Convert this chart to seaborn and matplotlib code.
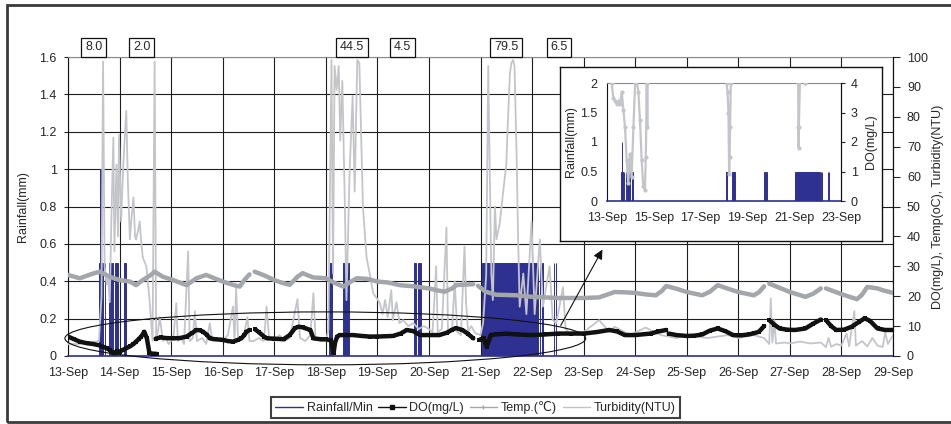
import numpy as np
import pandas as pd
import matplotlib
matplotlib.use("Agg")
import matplotlib.pyplot as plt
import seaborn as sns
from matplotlib.patches import Ellipse, Rectangle
from matplotlib.lines import Line2D
from matplotlib.ticker import FuncFormatter

# ---------------- data ----------------
days = list(range(13, 30))
day_labels = [f"{d}-Sep" for d in days]
inset_days = [13, 15, 17, 19, 21, 23]
inset_labels = [f"{d}-Sep" for d in inset_days]

# rainfall per minute (mm): event start / end (day of Sep) and amount
rain_start = [13.61, 13.63, 13.72, 13.80, 13.85, 13.91, 14.08, 18.07, 18.33, 19.71, 19.78, 21.02, 22.16, 22.20, 22.43, 22.47]
rain_end   = [13.67, 13.632, 13.725, 13.83, 13.88, 13.97, 14.13, 18.12, 18.45, 19.75, 19.85, 22.12, 22.163, 22.203, 22.433, 22.473]
rain_mm    = [0.5, 1.0, 0.5, 0.5, 0.5, 0.5, 0.5, 0.5, 0.5, 0.5, 0.5, 0.5, 0.5, 0.5, 0.5, 0.5]

# rain totals (mm) written above the plot
total_day = [13.50, 14.43, 18.51, 19.48, 21.50, 22.52]
total_txt = ["8.0", "2.0", "44.5", "4.5", "79.5", "6.5"]

# DO (mg/L) ; NaN = gap in record
do_t = [13.0, 13.12, 13.23, 13.36, 13.49, 13.6, 13.68, 13.75, 13.81, 13.86, 13.9, 13.95, 14.0, 14.06, 14.13, 14.2, 14.27, 14.32, 14.38, 14.42, 14.48, 14.53, 14.58, 14.64, 14.72, np.nan,
        14.7, 14.8, 14.9, 15.04, 15.17, 15.3, 15.4, 15.49, 15.56, 15.62, 15.7, 15.75, 15.85, 16.0, 16.1, 16.2, 16.3, 16.36, 16.42, 16.46, 16.52, np.nan,
        16.63, 16.7, 16.8, 16.86, 17.0, 17.18, 17.3, 17.4, 17.47, 17.55, 17.7, 17.76, 17.9, 18.0, 18.1, 18.15, 18.18, 18.22, 18.27, 18.4, 18.53, 18.7, 18.85, 19.0, 19.15, 19.3, 19.45, 19.57, 19.7, 19.83, 20.0, 20.2, 20.35, 20.45, 20.53, 20.65, 20.75, 20.86, np.nan,
        20.98, 21.06, 21.12, 21.2, 21.3, 21.5, 21.7, 22.0, 22.25, 22.5, 22.75, 23.0, 23.25, 23.5, 23.65, 23.8, 24.0, 24.3, 24.45, 24.6, np.nan,
        24.65, 24.8, 25.0, 25.15, 25.3, 25.45, 25.6, 25.75, 25.9, 26.05, 26.2, 26.3, 26.4, 26.5, np.nan,
        26.6, 26.7, 26.8, 26.95, 27.1, 27.3, 27.45, 27.6, np.nan,
        27.7, 27.8, 27.9, 28.05, 28.2, 28.35, 28.45, 28.55, 28.7, 28.85, 29.0]
do_v = [6.5, 5.6, 4.8, 4.3, 4.0, 3.6, 3.1, 2.6, 2.0, 1.2, 0.9, 1.8, 1.4, 2.0, 2.6, 3.2, 4.0, 4.8, 5.8, 6.5, 8.1, 5.9, 0.9, 0.8, 0.7, np.nan,
        5.8, 6.2, 6.0, 5.9, 6.0, 6.5, 7.6, 8.7, 8.6, 8.1, 7.0, 5.9, 5.6, 5.4, 5.0, 4.8, 5.4, 5.9, 7.0, 8.1, 8.7, np.nan,
        8.9, 8.0, 6.5, 5.9, 5.8, 5.6, 7.0, 9.3, 9.8, 9.6, 8.7, 5.9, 5.6, 5.6, 5.2, 1.0, 4.5, 6.5, 7.0, 7.0, 7.0, 6.7, 6.5, 6.5, 6.6, 6.7, 7.5, 8.7, 8.3, 7.0, 7.0, 7.0, 7.8, 8.8, 9.3, 8.7, 7.5, 5.9, np.nan,
        5.4, 6.0, 3.0, 7.0, 7.2, 7.5, 7.2, 7.0, 7.2, 7.5, 7.5, 7.5, 8.0, 8.7, 8.2, 7.0, 7.0, 7.5, 8.2, 8.7, np.nan,
        7.5, 7.0, 6.7, 6.8, 7.2, 8.5, 9.2, 8.3, 7.0, 6.9, 7.2, 7.6, 8.1, 10.0, np.nan,
        12.0, 10.5, 9.2, 8.8, 8.7, 9.2, 10.8, 12.2, np.nan,
        12.0, 10.0, 8.7, 8.8, 9.8, 11.5, 12.6, 11.8, 9.2, 8.7, 8.7]

# water temperature (C)
temp_t = [13.0, 13.23, 13.49, 13.62, 13.81, 14.0, 14.2, 14.32, 14.45, 14.6, 14.68, 14.84, 15.04, 15.3, 15.49, 15.68, 16.0, 16.2, 16.33, 16.42, 16.52, np.nan,
          16.62, 16.8, 17.0, 17.15, 17.3, 17.45, 17.55, 17.75, 18.0, 18.15, 18.34, 18.45, 18.6, 18.8, 19.0, 19.2, 19.43, 19.7, 20.0, 20.15, 20.3, 20.45, 20.53, 20.7, 20.86, np.nan,
          20.95, 21.1, 21.3, 21.5, 21.7, 22.0, 22.25, 22.5, 22.75, 23.0, 23.3, 23.45, 23.6, 23.8, 24.0, 24.2, 24.4, 24.52, 24.6, 24.8, 25.0, 25.3, 25.45, 25.6, 25.8, 26.0, 26.3, 26.4, 26.5, np.nan,
          26.6, 26.8, 27.0, 27.3, 27.45, 27.6, np.nan,
          27.7, 28.0, 28.3, 28.4, 28.5, 28.7, 28.8, 29.0]
temp_v = [27.1, 26.0, 27.6, 28.2, 26.5, 25.4, 24.9, 23.7, 25.4, 27.0, 28.2, 26.5, 25.4, 23.7, 26.0, 27.1, 24.9, 23.8, 23.2, 25.4, 27.3, np.nan,
          28.2, 27.0, 25.4, 24.5, 23.8, 26.5, 27.7, 26.3, 26.0, 24.6, 23.2, 24.5, 26.0, 25.8, 24.9, 24.6, 23.7, 23.3, 22.6, 22.0, 21.5, 22.6, 23.7, 23.9, 24.0, np.nan,
          23.5, 21.5, 20.5, 20.4, 20.3, 19.8, 19.6, 19.4, 19.4, 19.4, 19.6, 20.5, 21.4, 21.3, 21.1, 20.6, 20.3, 21.8, 23.4, 22.5, 21.4, 20.3, 21.5, 23.7, 22.5, 21.4, 20.3, 21.3, 23.3, np.nan,
          24.2, 22.8, 21.4, 19.8, 20.8, 22.6, np.nan,
          22.6, 20.7, 19.0, 20.5, 23.1, 22.6, 22.0, 21.1]

# turbidity (NTU)
turb_t = [13.0, 13.2, 13.4, 13.6, 13.65, 13.68, 13.71, 13.75, 13.78, 13.81, 13.84, 13.88, 13.9, 13.94, 13.97, 13.99, 14.03, 14.07, 14.1, 14.13, 14.16, 14.2, 14.23, 14.27, 14.3, 14.32, 14.36, 14.39, 14.42, 14.45, 14.52, 14.58, 14.64, 14.68, 14.71, 14.75, 14.78, 14.84, 14.9, 14.95,
          15.0, 15.05, 15.1, 15.13, 15.2, 15.25, 15.33, 15.36, 15.42, 15.46, 15.5, 15.6, 15.68, 15.75, 15.8, 15.9, 16.0, 16.1, 16.2, 16.23, 16.26, 16.3, 16.4, 16.48, 16.52,
          16.6, 16.7, 16.8, 16.85, 16.9, 17.0, 17.1, 17.2, 17.3, 17.45, 17.5, 17.6, 17.7, 17.76, 17.8, 17.9, 18.0, 18.05, 18.11, 18.14, 18.17, 18.21, 18.25, 18.28, 18.32, 18.37, 18.4, 18.43, 18.46, 18.52, 18.56, 18.61, 18.65, 18.68, 18.72, 18.79, 18.85, 18.92,
          19.0, 19.05, 19.1, 19.15, 19.2, 19.27, 19.3, 19.37, 19.43, 19.5, 19.6, 19.7, 19.8, 19.9, 20.0, 20.07, 20.14, 20.17, 20.25, 20.34, 20.37, 20.45, 20.5, 20.55, 20.62, 20.69, 20.72, 20.76, 20.82, 20.9,
          21.0, 21.05, 21.11, 21.15, 21.18, 21.21, 21.24, 21.28, 21.31, 21.37, 21.44, 21.5, 21.53, 21.57, 21.6, 21.63, 21.66, 21.7, 21.73, 21.76, 21.83, 21.89, 21.99, 22.05, 22.15, 22.21, 22.34, 22.4, 22.47, 22.6, 22.65, 22.73, 22.85,
          23.0, 23.3, 23.5, 23.6, 23.9, 24.2, 24.5, 24.8, 25.0, 25.4, 25.8, 26.0, 26.3, 26.5, 26.6, 26.63, 26.66, 26.7, 26.73, 26.9, 27.0, 27.2, 27.4, 27.6, 27.7, 27.75, 27.8, 27.9, 28.0, 28.1, 28.15, 28.25, 28.28, 28.4, 28.5, 28.6, 28.7, 28.8, 28.85, 28.9, 29.0]
turb_v = [4, 4, 4.5, 5, 20, 98.5, 30, 24, 26, 18, 45, 73, 35, 64, 40, 74, 45, 63, 73, 82, 59, 39, 46, 53, 40, 39, 42, 45, 38, 33, 30, 19, 5, 98.5, 5, 9, 13, 5, 6, 4,
          5, 7, 17.6, 5, 6, 4, 35, 5, 6, 15, 5, 6, 4, 11, 5, 6, 5, 7, 16.5, 5, 23, 5, 6, 13, 5,
          5, 6, 5, 16.5, 6, 5, 7, 5, 6, 19, 6, 5, 7, 21, 6, 5, 5, 8.7, 99, 27.6, 97, 89, 97, 72, 92, 50, 18.7, 39, 61, 87, 55, 99, 98, 78, 50, 33, 27.6, 21,
          19, 17.6, 14, 18.7, 13, 22, 12, 18, 11, 12, 10, 11, 9, 10, 9, 8, 30, 8, 9, 43, 8, 9, 25, 8, 7, 36.6, 18, 8, 10, 7.6,
          7, 11, 27, 97, 61, 27.6, 18.7, 50, 39, 44, 55, 64, 78, 94.5, 98, 99, 97, 67, 39, 16.5, 27.6, 14, 45, 14, 39, 16.5, 30, 12, 11, 23, 9, 7.6, 8,
          8, 12, 8, 9.8, 7, 9.5, 7, 6, 7, 6, 7, 6, 7, 6, 4, 19.2, 4.5, 12, 4.2, 4.5, 4.2, 4.8, 4.2, 4.5, 3, 6, 3.1, 4, 3.5, 7.5, 3.2, 15, 3.5, 5, 3.2, 6, 3.5, 3, 8, 4, 7]

# inset: DO (mg/L) close-up, values above 4 run off the top of the inset
ido_t = [13.0, 13.2, 13.27, 13.34, 13.41, 13.5, 13.56, 13.63, 13.7, 13.77, 13.84, 13.91, 13.98, 14.05, 14.13, 14.2, 14.27, 14.34, 14.41, 14.48, 14.55, 14.62, 14.66, 14.7, 14.72, 14.75, np.nan,
         18.05, 18.11, 18.15, 18.19, 18.22, 18.24, 18.26, 18.29, 18.35, np.nan,
         21.1, 21.17, 21.18, 21.19, 21.2, 21.27, np.nan,
         21.46, 21.47]
ido_v = [5.0, 4.0, 3.5, 3.4, 3.3, 3.4, 3.3, 3.7, 3.1, 2.5, 1.4, 0.6, 1.6, 0.8, 2.5, 4.0, 4.1, 3.7, 2.75, 1.4, 0.5, 0.37, 1.5, 4.0, 2.5, 5.0, np.nan,
         5.0, 4.0, 3.7, 3.0, 0.9, 1.5, 2.5, 4.0, 5.0, np.nan,
         5.0, 4.0, 2.5, 1.8, 2.5, 5.0, np.nan,
         4.0, 4.0]


def seg_frame(t, v):
    df = pd.DataFrame({"t": t, "v": v})
    df["seg"] = df["v"].isna().cumsum()
    return df.dropna()


# ---------------- style ----------------
sns.set_style("white")
plt.rcParams["font.family"] = ["Liberation Sans", "DejaVu Sans"]
plt.rcParams["font.size"] = 9

BLUE = "#2e3192"
DO_C = "#111111"
TEMP_C = "#a3a6aa"
TURB_C = "#c3c5ca"

fig = plt.figure(figsize=(9.51, 4.24), dpi=100)

# outer frame
fig.add_artist(Rectangle((7 / 951, 2 / 424), 1.0, 417 / 424, transform=fig.transFigure,
                         fill=False, ec="#3a3a3a", lw=2))

# ---------------- main axes ----------------
ax = fig.add_axes([68 / 951, 68 / 424, 825 / 951, 299 / 424])
ax.set_xlim(13, 29)
ax.set_ylim(0, 1.6)
ax.set_xticks(days)
ax.set_xticklabels(day_labels)
ax.set_yticks(np.round(np.arange(0, 1.61, 0.2), 1))
ax.yaxis.set_major_formatter(FuncFormatter(lambda v, p: f"{v:g}"))
ax.grid(True, color="#1e1e1e", lw=0.8)
ax.set_axisbelow(True)
ax.tick_params(axis="x", length=0, pad=8, labelsize=9)
ax.tick_params(axis="y", length=3, direction="out", pad=5, labelsize=9, left=True)
ax.spines["left"].set_color("#111111")
ax.spines["top"].set_color("#8a8a8a")
ax.spines["bottom"].set_color(BLUE)
ax.spines["bottom"].set_linewidth(1.2)

# rainfall bars
ax.bar(rain_start, rain_mm, width=np.array(rain_end) - np.array(rain_start), align="edge",
       color=BLUE, edgecolor=BLUE, linewidth=0.7, zorder=2)

# right axis
ax2 = ax.twinx()
ax2.set_ylim(0, 100)
ax2.set_yticks(range(0, 101, 10))
ax2.tick_params(axis="y", length=5, direction="out", pad=5, labelsize=9)
ax2.spines["right"].set_color("#111111")
ax2.spines["top"].set_visible(False)
ax2.spines["bottom"].set_visible(False)
ax2.spines["left"].set_visible(False)

turb = seg_frame(turb_t, turb_v)
sns.lineplot(data=turb, x="t", y="v", units="seg", estimator=None, sort=False, ax=ax2,
             color=TURB_C, lw=1.3, legend=False, zorder=2)
temp = seg_frame(temp_t, temp_v)
sns.lineplot(data=temp, x="t", y="v", units="seg", estimator=None, sort=False, ax=ax2,
             color=TEMP_C, lw=3.2, legend=False, zorder=3)
dof = seg_frame(do_t, do_v)
sns.lineplot(data=dof, x="t", y="v", units="seg", estimator=None, sort=False, ax=ax2,
             color=DO_C, lw=3.2, marker="s", markersize=3.2, markeredgewidth=0, legend=False, zorder=4)
ax2.set_xlim(13, 29)
ax2.set_xlabel("")
ax.set_xlabel("")
ax.set_ylabel("Rainfall(mm)", fontsize=9)
ax.yaxis.set_label_coords(-0.047, 0.5)
ax2.set_ylabel("DO(mg/L), Temp(oC), Turbidity(NTU)", fontsize=9)
ax2.yaxis.set_label_coords(1.047, 0.5)

# rain totals boxes
for d, txt in zip(total_day, total_txt):
    ax.annotate(txt, xy=(d, 1.032), xycoords=("data", "axes fraction"), ha="center", va="center",
                fontsize=9, annotation_clip=False,
                bbox=dict(boxstyle="square,pad=0.3", fc="white", ec="#111111", lw=0.9))

# ellipse + arrow
ax2.add_patch(Ellipse((17.99, 5.9), 10.1, 17.7, fill=False, ec="#111111", lw=0.8,
                      clip_on=False, zorder=6))
ax2.annotate("", xy=(23.39, 36.4), xytext=(22.53, 9.4),
             arrowprops=dict(arrowstyle="-|>", color="#111111", lw=0.8, mutation_scale=14),
             annotation_clip=False, zorder=6)

# ---------------- inset ----------------
box = fig.add_axes([560 / 951, 183 / 424, 322 / 951, 174 / 424])
box.set_xticks([])
box.set_yticks([])
box.set_facecolor("white")
for s in box.spines.values():
    s.set_color("#111111")
    s.set_linewidth(1.0)
box.set_zorder(5)

iax = fig.add_axes([607 / 951, 223 / 424, 234 / 951, 118 / 424])
iax.set_zorder(6)
iax.patch.set_alpha(0)
iax.set_xlim(13, 23)
iax.set_ylim(0, 2)
iax.bar(rain_start, rain_mm, width=np.array(rain_end) - np.array(rain_start), align="edge",
        color=BLUE, edgecolor=BLUE, linewidth=0.7)
iax.set_xticks(inset_days)
iax.set_xticklabels(inset_labels)
iax.set_yticks([0, 0.5, 1, 1.5, 2])
iax.yaxis.set_major_formatter(FuncFormatter(lambda v, p: f"{v:g}"))
iax.tick_params(axis="x", direction="in", length=3, pad=8, labelsize=9)
iax.tick_params(axis="y", direction="in", length=0, pad=7, labelsize=9, left=True)
iax.spines["top"].set_color("#8a8a8a")
iax.spines["bottom"].set_color(BLUE)
iax.spines["bottom"].set_linewidth(1.2)
iax.spines["left"].set_color("#111111")

iax2 = iax.twinx()
iax2.set_zorder(7)
iax2.set_ylim(0, 4)
iax2.set_yticks([0, 1, 2, 3, 4])
iax2.tick_params(axis="y", direction="out", length=3, pad=4, labelsize=9)
iax2.spines["right"].set_color("#111111")
for s in ["top", "bottom", "left"]:
    iax2.spines[s].set_visible(False)
ido = seg_frame(ido_t, ido_v)
sns.lineplot(data=ido, x="t", y="v", units="seg", estimator=None, sort=False, ax=iax2,
             color=TURB_C, lw=1.6, marker="o", markersize=3, markeredgewidth=0, legend=False)
iax2.set_xlim(13, 23)
iax2.set_ylim(0, 4)
iax.set_xlabel("")
iax2.set_xlabel("")
iax.set_ylabel("Rainfall(mm)", fontsize=9)
iax.yaxis.set_label_coords(-0.128, 0.5)
iax2.set_ylabel("DO(mg/L)", fontsize=9)
iax2.yaxis.set_label_coords(1.103, 0.5)

# ---------------- legend ----------------
handles = [
    Line2D([], [], color=BLUE, lw=1.0),
    Line2D([], [], color=DO_C, lw=1.0, marker="s", markersize=2.5),
    Line2D([], [], color=TEMP_C, lw=1.0, marker="|", markersize=3),
    Line2D([], [], color=TURB_C, lw=1.0),
]
labels = ["Rainfall/Min", "DO(mg/L)", "Temp.(\u2103)", "Turbidity(NTU)"]
leg = fig.legend(handles, labels, loc="center", bbox_to_anchor=(475.5 / 951, 1 - 407.5 / 424),
                 ncol=4, fontsize=9, frameon=True, fancybox=False, handlelength=2.2,
                 handletextpad=0.3, columnspacing=0.45, borderpad=0.35, borderaxespad=0)
leg.get_frame().set_edgecolor("#111111")
leg.get_frame().set_linewidth(1.5)

fig.savefig("out.png", dpi=100)
